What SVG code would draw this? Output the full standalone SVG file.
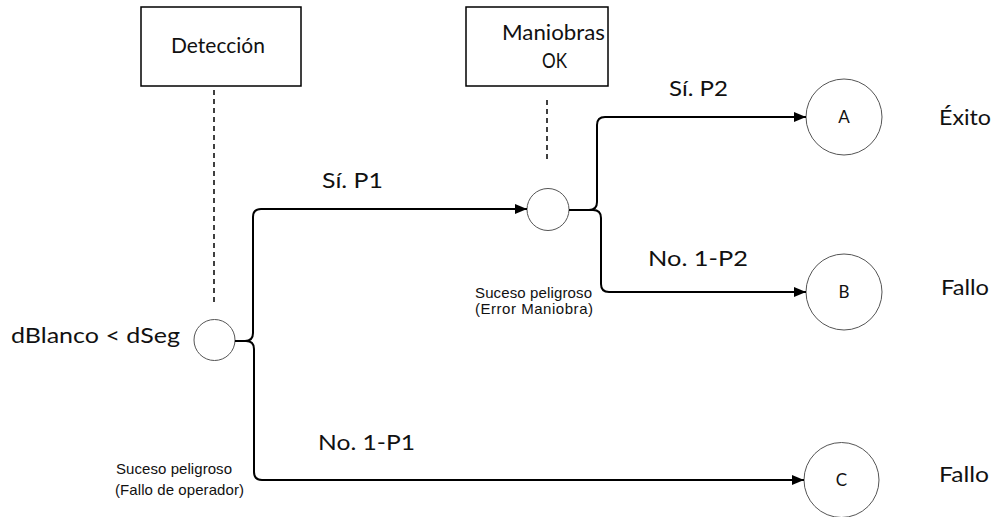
<svg xmlns="http://www.w3.org/2000/svg" width="996" height="517" viewBox="0 0 996 517">
  <style>
    .box { fill: #ffffff; stroke: #000000; stroke-width: 1.5; }
    .node { fill: #ffffff; stroke: #555555; stroke-width: 1; }
    .guide { fill: none; stroke: #000000; stroke-width: 1.5; stroke-dasharray: 5 4; }
    .edge { fill: none; stroke: #000000; stroke-width: 2; stroke-linejoin: round; }
    .lbl { font-family: Lato, "Open Sans", "Liberation Sans", sans-serif; font-size: 22px; fill: #111111; }
    .end { font-family: Lato, "Open Sans", "Liberation Sans", sans-serif; font-size: 17px; fill: #111111; text-anchor: middle; }
    .note { font-family: "Liberation Sans", Arial, sans-serif; font-size: 15px; fill: #111111; }
  </style>
  <defs>
    <marker id="arrow" markerUnits="userSpaceOnUse" markerWidth="12" markerHeight="10" refX="12" refY="5" orient="auto">
      <path d="M0,0 L12,5 L0,10 z" fill="#000000"/>
    </marker>
  </defs>

  <!-- header boxes -->
  <g id="deteccion">
    <rect class="box" x="141" y="7" width="160" height="79"/>
    <text class="lbl" x="171" y="53" textLength="94" lengthAdjust="spacingAndGlyphs">Detección</text>
    <line class="guide" x1="214" y1="90" x2="214" y2="306"/>
  </g>
  <g id="maniobras-ok">
    <rect class="box" x="466" y="7" width="142" height="79"/>
    <text class="lbl" x="502" y="40" textLength="103" lengthAdjust="spacingAndGlyphs">Maniobras</text>
    <text class="lbl" x="542" y="68" textLength="25" lengthAdjust="spacingAndGlyphs">OK</text>
    <line class="guide" x1="547" y1="100" x2="547" y2="160"/>
  </g>

  <!-- chance nodes -->
  <g id="inicio">
    <text class="lbl" x="11" y="343" textLength="169" lengthAdjust="spacingAndGlyphs">dBlanco &lt; dSeg</text>
    <circle class="node" cx="214.5" cy="340" r="20.5"/>
    <text class="note" x="116" y="474" textLength="116">Suceso peligroso</text>
    <text class="note" x="115" y="495" textLength="129">(Fallo de operador)</text>
  </g>
  <g id="maniobra">
    <circle class="node" cx="548" cy="209.5" r="21"/>
    <text class="note" x="475" y="298" textLength="117">Suceso peligroso</text>
    <text class="note" x="475" y="314" textLength="118">(Error Maniobra)</text>
  </g>

  <!-- outcomes -->
  <g id="resultado-a">
    <circle class="node" cx="844" cy="117" r="38"/>
    <text class="end" x="844" y="123">A</text>
    <text class="lbl" x="939" y="125" textLength="52" lengthAdjust="spacingAndGlyphs">Éxito</text>
  </g>
  <g id="resultado-b">
    <circle class="node" cx="844" cy="292" r="38"/>
    <text class="end" x="844" y="298">B</text>
    <text class="lbl" x="941" y="295" textLength="48" lengthAdjust="spacingAndGlyphs">Fallo</text>
  </g>
  <g id="resultado-c">
    <circle class="node" cx="841.5" cy="480" r="37.5"/>
    <text class="end" x="841.5" y="486">C</text>
    <text class="lbl" x="939" y="482" textLength="50" lengthAdjust="spacingAndGlyphs">Fallo</text>
  </g>

  <!-- branches -->
  <g id="connectors">
    <path class="edge" marker-end="url(#arrow)" d="M235,341 H245 Q253,341 253,333 V217 Q253,209 261,209 H527"/>
    <path class="edge" marker-end="url(#arrow)" d="M235,341 H246 Q254,341 254,349 V472 Q254,480 262,480 H804"/>
    <path class="edge" marker-end="url(#arrow)" d="M569,210 H589 Q597,210 597,202 V125 Q597,117 605,117 H806"/>
    <path class="edge" marker-end="url(#arrow)" d="M569,210 H593 Q601,210 601,218 V284 Q601,292 609,292 H806"/>
    <text class="lbl" x="322" y="188" textLength="61" lengthAdjust="spacingAndGlyphs">Sí.  P1</text>
    <text class="lbl" x="669" y="96" textLength="59" lengthAdjust="spacingAndGlyphs">Sí. P2</text>
    <text class="lbl" x="648" y="266" textLength="100" lengthAdjust="spacingAndGlyphs">No. 1-P2</text>
    <text class="lbl" x="318" y="450" textLength="97" lengthAdjust="spacingAndGlyphs">No.  1-P1</text>
  </g>
</svg>
